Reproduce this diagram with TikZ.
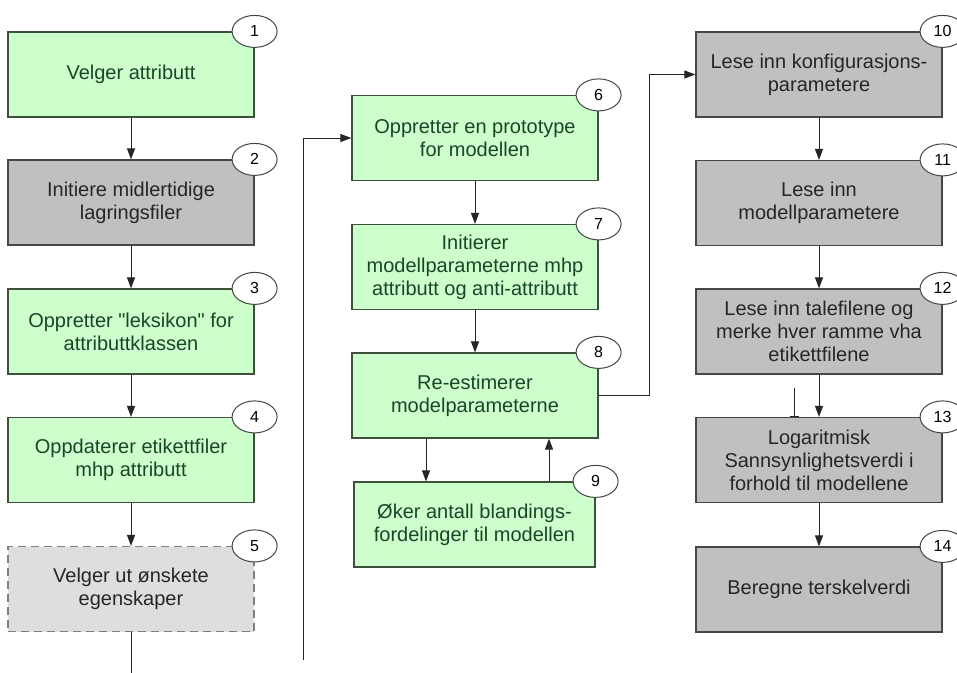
\documentclass[tikz,border=0pt]{standalone}
\usepackage{fontspec}
\setmainfont{Liberation Sans}[Ligatures=TeXOff]
\usepackage{tikz}
\usetikzlibrary{arrows.meta}
\usetikzlibrary{shapes.geometric,positioning}
\definecolor{boxgreen}{RGB}{204,255,204}
\definecolor{greenline}{RGB}{60,80,60}
\definecolor{greentext}{RGB}{25,70,40}
\definecolor{boxgray}{RGB}{192,192,192}
\definecolor{grayline}{RGB}{70,70,70}
\definecolor{boxlight}{RGB}{222,222,222}
\tikzset{>={Triangle[length=11pt,width=8pt]},
  stepgreen/.style={rectangle,draw=greenline,line width=1.2pt,fill=boxgreen,
    text=greentext,minimum width=246pt,minimum height=85pt,align=center,
    font=\fontsize{20}{23}\selectfont},
  stepgray/.style={stepgreen,draw=grayline,fill=boxgray,text=black!85},
  stepopt/.style={stepgray,fill=boxlight,draw=gray,dash pattern=on 8pt off 5pt},
  numcirc/.style={ellipse,draw=grayline,line width=1pt,fill=white,
    minimum width=45pt,minimum height=32pt,inner sep=0pt,
    font=\fontsize{16}{18}\selectfont},
  conn/.style={line width=1pt,black!85}}

\begin{document}
\begin{tikzpicture}[x=1pt,y=-1pt]

  \clip (0,0) rectangle (957,672);

  % first column
  \node [stepgreen] (b1) at (131,74.5) {Velger attributt};
  \node [stepgray]  (b2) at (131,202.5) {Initiere midlertidige\\lagringsfiler};
  \node [stepgreen] (b3) at (131,331.5) {Oppretter "leksikon" for\\attributtklassen};
  \node [stepgreen] (b4) at (131,460) {Oppdaterer etikettfiler\\mhp attributt};
  \node [stepopt]   (b5) at (131,589) {Velger ut ønskete\\egenskaper};

  % second column
  \node [stepgreen] (b6) at (475,138) {Oppretter en prototype\\for modellen};
  \node [stepgreen] (b7) at (475,267) {Initierer\\modellparameterne mhp\\attributt og anti-attributt};
  \node [stepgreen] (b8) at (475,395.5) {Re-estimerer\\modelparameterne};
  \node [stepgreen,minimum width=241pt] (b9) at (474.5,524.5) {Øker antall blandings-\\fordelinger til modellen};

  % third column
  \node [stepgray] (b10) at (819,74.5) {Lese inn konfigurasjons-\\parametere};
  \node [stepgray] (b11) at (819,203) {Lese inn\\modellparametere};
  \node [stepgray] (b12) at (819,331.5) {Lese inn talefilene og\\merke hver ramme vha\\etikettfilene};
  \node [stepgray] (b13) at (819,460) {Logaritmisk\\Sannsynlighetsverdi i\\forhold til modellene};
  \node [stepgray] (b14) at (819,589.5) {Beregne terskelverdi};

  \foreach \i in {1,...,14}
    \node [numcirc] (n\i) at (b\i.north east) {\i};

  \draw [conn,->] (b1) -- (b2);
  \draw [conn,->] (b2) -- (b3);
  \draw [conn,->] (b3) -- (b4);
  \draw [conn,->] (b4) -- (b5);

  \coordinate (loopa) at (131,680);
  \coordinate (loopb) at (303,660);
  \draw [conn] (b5) -- (loopa);
  \draw [conn,->] (loopb) |- (b6.west);

  \draw [conn,->] (b6) -- (b7);
  \draw [conn,->] (b7) -- (b8);
  \draw [conn,->] ([xshift=-49pt]b8.south) -- ([xshift=-49pt]b8.south |- b9.north);
  \draw [conn,->] ([xshift=74.5pt]b9.north) -- ([xshift=74.5pt]b9.north |- b8.south);
  \draw [conn,->] (b8.east) -- ++(51,0) |- (b10.west);

  \draw [conn,->] (b10) -- (b11);
  \draw [conn,->] (b11) -- (b12);
  \draw [conn,->] (b12) -- (b13);
  \draw [conn,->] (b13) -- (b14);

  \coordinate (stray) at (794,388);
  \draw [conn,-{Bar[width=9pt]}] (stray) -- (stray |- b13.north);

\end{tikzpicture}
\end{document}
